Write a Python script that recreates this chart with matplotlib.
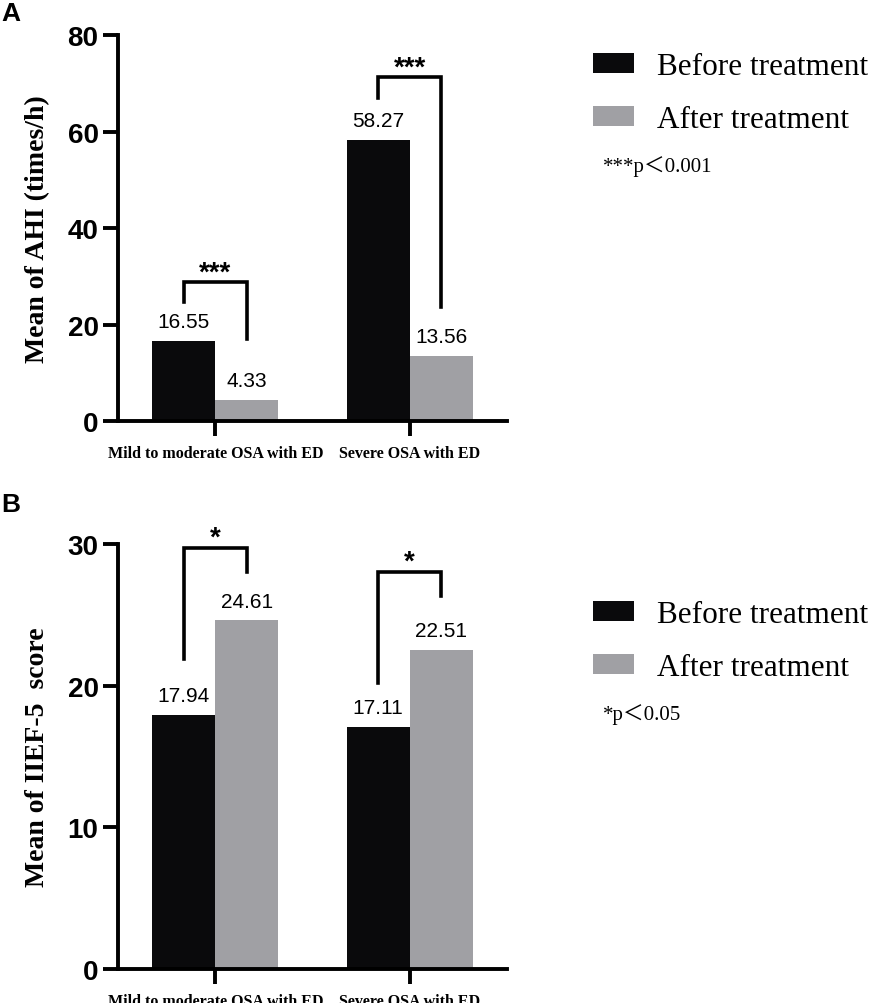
import matplotlib

matplotlib.use("Agg")

import matplotlib.pyplot as plt
import numpy as np
from matplotlib.patches import Patch

groups = ["Mild to moderate OSA with ED", "Severe OSA with ED"]
series = ["Before treatment", "After treatment"]

ahi_before = [16.55, 58.27]
ahi_after = [4.33, 13.56]

iief_before = [17.94, 17.11]
iief_after = [24.61, 22.51]

# significance brackets: (top, left leg bottom, right leg bottom)
ahi_brackets = [(28.8, 24.6, 17.0), (71.2, 67.0, 23.6)]
iief_brackets = [(29.7, 21.9, 28.0), (28.0, 20.2, 26.3)]
ahi_star = "***"
iief_star = "*"
ahi_note = "***p＜0.001"
iief_note = "*p＜0.05"

BLACK = "#0a0a0c"
GRAY = "#a0a0a4"
SANS = "Liberation Sans"
SERIF = "Liberation Serif"

W, H = 886, 1004
fig = plt.figure(figsize=(W / 100, H / 100), dpi=100)


def px_rect(left, right, top, bottom):
    return [left / W, 1 - bottom / H, (right - left) / W, (bottom - top) / H]


def draw_panel(ax, before, after, brackets, star, ymax, ystep, ylabel, star_off):
    x = np.arange(len(groups))
    w = 0.325
    ax.bar(x - w / 2, before, w, color=BLACK, zorder=2)
    ax.bar(x + w / 2, after, w, color=GRAY, zorder=2)

    for xi, b, a in zip(x, before, after):
        ax.annotate(f"{b:.2f}", (xi - w / 2, b), xytext=(0, 7), textcoords="offset points",
                    ha="center", va="bottom", fontsize=15, family=SANS)
        ax.annotate(f"{a:.2f}", (xi + w / 2, a), xytext=(0, 7), textcoords="offset points",
                    ha="center", va="bottom", fontsize=15, family=SANS)

    for xi, (top, lb, rb) in zip(x, brackets):
        xl, xr = xi - w / 2, xi + w / 2
        ax.plot([xl, xl, xr, xr], [lb, top, top, rb], color="black", lw=2.6,
                solid_joinstyle="miter", zorder=3, clip_on=False)
        ax.annotate(star, ((xl + xr) / 2, top), xytext=(0, star_off),
                    textcoords="offset points", ha="center", va="baseline",
                    fontsize=20, fontweight="bold", family=SANS)

    ax.set_xlim(-0.5, 1.5)
    ax.set_ylim(0, ymax)
    ax.set_yticks(np.arange(0, ymax + 1, ystep))
    ax.set_xticks(x)
    ax.set_xticklabels(groups, family=SERIF, fontweight="bold", fontsize=11.5)
    for lab in ax.get_yticklabels():
        lab.set_family(SANS)
        lab.set_fontweight("bold")
        lab.set_fontsize(20)
    ax.tick_params(axis="y", length=11, width=2.8, pad=3)
    ax.tick_params(axis="x", length=11, width=2.8, pad=6)
    for side in ("top", "right"):
        ax.spines[side].set_visible(False)
    for side in ("left", "bottom"):
        ax.spines[side].set_linewidth(2.8)
    ax.set_ylabel(ylabel, family=SERIF, fontweight="bold", fontsize=20)
    ax.yaxis.set_label_coords(-0.175, 0.5)


ax_a = fig.add_axes(px_rect(118, 507, 36, 422))
draw_panel(ax_a, ahi_before, ahi_after, ahi_brackets, ahi_star, 80, 20,
           "Mean of AHI (times/h)", 2)

ax_b = fig.add_axes(px_rect(118, 507, 545, 970))
draw_panel(ax_b, iief_before, iief_after, iief_brackets, iief_star, 30, 10,
           "Mean of IIEF-5  score", 2.5)

handles = [Patch(facecolor=BLACK, edgecolor="none"), Patch(facecolor=GRAY, edgecolor="none")]
for top_px, note, note_px in [(53, ahi_note, 167), (601, iief_note, 715)]:
    fig.legend(handles, series, loc="upper left", bbox_to_anchor=(593 / W, 1 - top_px / H),
               frameon=False, borderpad=0, borderaxespad=0, handlelength=1.31,
               handleheight=0.61, handletextpad=0.75, labelspacing=0.76,
               prop={"family": SERIF, "size": 22.5})
    fig.text(603 / W, 1 - note_px / H, note, ha="left", va="center", fontsize=15,
             family=[SERIF, "Noto Sans CJK SC"])

fig.text(1 / W, 1 - 14 / H, "A", fontsize=19, fontweight="bold", family=SANS, va="center")
fig.text(1 / W, 1 - 505 / H, "B", fontsize=19, fontweight="bold", family=SANS, va="center")

fig.savefig("out.png", dpi=100)
